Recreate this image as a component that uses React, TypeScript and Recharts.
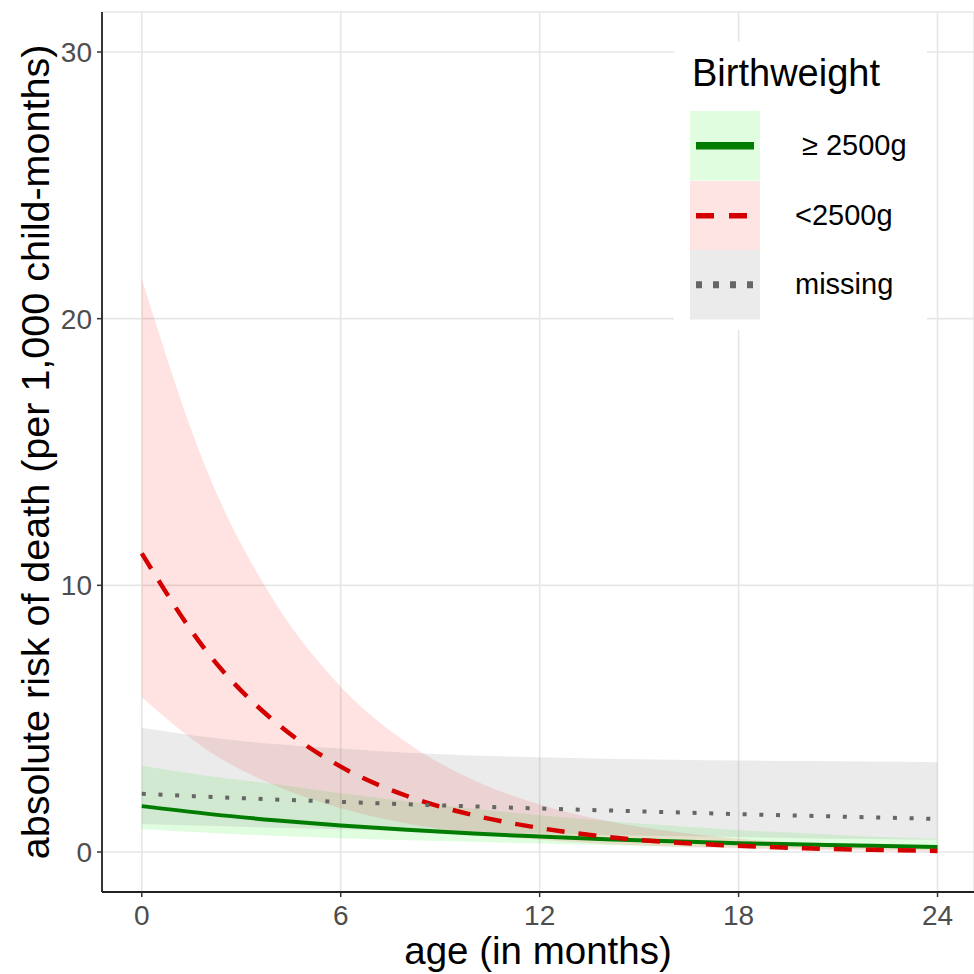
import React from 'react';
import { ComposedChart, Area, Line, XAxis, YAxis, CartesianGrid, Legend } from 'recharts';

// age in months
const months = [0, 2, 4, 6, 8, 10, 12, 14, 16, 18, 20, 22, 24];

// >= 2500g
const normalEst = [1.72, 1.43, 1.19, 0.99, 0.83, 0.69, 0.58, 0.48, 0.4, 0.33, 0.28, 0.23, 0.19];
const normalLo = [0.86, 0.72, 0.61, 0.52, 0.44, 0.38, 0.32, 0.26, 0.21, 0.17, 0.13, 0.1, 0.07];
const normalHi = [3.23, 2.85, 2.55, 2.2, 1.9, 1.62, 1.38, 1.16, 0.98, 0.82, 0.7, 0.58, 0.49];

// < 2500g
const lowEst = [11.2, 7.45, 4.9, 3.2, 2.1, 1.38, 0.9, 0.57, 0.36, 0.23, 0.14, 0.08, 0.04];
const lowLo = [5.8, 3.8, 2.5, 1.64, 1.07, 0.7, 0.46, 0.3, 0.2, 0.13, 0.085, 0.05, 0.02];
const lowHi = [21.5, 14.2, 9.4, 6.2, 4.1, 2.7, 1.78, 1.17, 0.77, 0.5, 0.33, 0.22, 0.14];

// missing
const missEst = [2.18, 2.07, 1.97, 1.88, 1.79, 1.71, 1.63, 1.56, 1.49, 1.42, 1.36, 1.3, 1.24];
const missLo = [1.05, 0.98, 0.91, 0.85, 0.79, 0.74, 0.69, 0.64, 0.6, 0.56, 0.52, 0.49, 0.46];
const missHi = [4.66, 4.3, 4.05, 3.88, 3.72, 3.62, 3.55, 3.5, 3.46, 3.43, 3.41, 3.39, 3.37];

const xTicks = [0, 6, 12, 18, 24];
const yTicks = [0, 10, 20, 30];
const legendLabels = ['≥ 2500g', '<2500g', 'missing'];

const rows = months.map((m, i) => ({
  month: m,
  normal: normalEst[i],
  normalBand: [normalLo[i], normalHi[i]],
  low: lowEst[i],
  lowBand: [lowLo[i], lowHi[i]],
  missing: missEst[i],
  missingBand: [missLo[i], missHi[i]],
}));

const FONT = "'Liberation Sans', Arial, Helvetica, sans-serif";
const GREEN = '#007d00';
const RED = '#d40000';
const GREY = '#666666';

const keyStyles = [
  { bg: '#e0fde0', stroke: GREEN, width: 7.5, dash: undefined as string | undefined, pad: 7 },
  { bg: '#ffe4e4', stroke: RED, width: 5.5, dash: '18 15', pad: 0 },
  { bg: '#ebebeb', stroke: GREY, width: 7, dash: '6 11', pad: 0 },
];

const LegendBox = () => (
  <div style={{ position: 'relative', width: 253, height: 288, background: '#fff', fontFamily: FONT }}>
    <div style={{ position: 'absolute', left: 18, top: 12, fontSize: 38, lineHeight: 1, color: '#000' }}>
      Birthweight
    </div>
    {legendLabels.map((label, i) => (
      <div
        key={label}
        style={{ position: 'absolute', left: 16, top: 69 + i * 69.5, height: 69.5, display: 'flex', alignItems: 'center' }}
      >
        <svg width={70} height={69.5} style={{ display: 'block' }}>
          <rect x={0} y={0} width={70} height={69.5} fill={keyStyles[i].bg} />
          <line
            x1={6}
            x2={64}
            y1={34.75}
            y2={34.75}
            stroke={keyStyles[i].stroke}
            strokeWidth={keyStyles[i].width}
            strokeDasharray={keyStyles[i].dash}
          />
        </svg>
        <span style={{ marginLeft: 35 + keyStyles[i].pad, fontSize: 29, color: '#000', whiteSpace: 'nowrap' }}>
          {label}
        </span>
      </div>
    ))}
  </div>
);

export default function App() {
  return (
    <div style={{ position: 'absolute', left: 0, top: 0, width: 974, height: 974, overflow: 'hidden', background: '#fff' }}>
      <ComposedChart
        width={974}
        height={974}
        data={rows}
        margin={{ top: 12, right: 0, bottom: 0, left: 0 }}
        style={{ fontFamily: FONT }}
      >
        <CartesianGrid stroke="#e6e6e6" strokeWidth={1.6} />
        <XAxis
          dataKey="month"
          type="number"
          domain={[-1.2, 25.1]}
          ticks={xTicks}
          allowDataOverflow
          height={82}
          tickSize={5}
          tickMargin={8}
          tick={{ fill: '#4d4d4d', fontSize: 28 }}
          tickLine={{ stroke: '#333', strokeWidth: 1.5 }}
          axisLine={{ stroke: '#222', strokeWidth: 1.8 }}
          label={{ value: 'age (in months)', position: 'center', dy: 17, fontSize: 38.5, fill: '#000' }}
        />
        <YAxis
          type="number"
          domain={[-1.5, 31.5]}
          ticks={yTicks}
          allowDataOverflow
          width={102}
          tickSize={5}
          tickMargin={5}
          tick={{ fill: '#4d4d4d', fontSize: 28 }}
          tickLine={{ stroke: '#333', strokeWidth: 1.5 }}
          axisLine={{ stroke: '#222', strokeWidth: 1.8 }}
          label={{
            value: 'absolute risk of death (per 1,000 child-months)',
            angle: -90,
            position: 'center',
            dx: -16,
            fontSize: 39.5,
            fill: '#000',
          }}
        />
        <Area dataKey="normalBand" type="monotone" stroke="none" fill="#00ee00" fillOpacity={0.12} isAnimationActive={false} activeDot={false} />
        <Area dataKey="lowBand" type="monotone" stroke="none" fill="#ff0000" fillOpacity={0.11} isAnimationActive={false} activeDot={false} />
        <Area dataKey="missingBand" type="monotone" stroke="none" fill="#7f7f7f" fillOpacity={0.155} isAnimationActive={false} activeDot={false} />
        <Line dataKey="normal" type="monotone" stroke={GREEN} strokeWidth={4} dot={false} activeDot={false} isAnimationActive={false} />
        <Line dataKey="low" type="monotone" stroke={RED} strokeWidth={4.5} strokeDasharray="18 14" dot={false} activeDot={false} isAnimationActive={false} />
        <Line dataKey="missing" type="monotone" stroke={GREY} strokeWidth={4} strokeDasharray="4 12.7" dot={false} activeDot={false} isAnimationActive={false} />
        <Legend
          layout="vertical"
          align="center"
          verticalAlign="middle"
          content={() => <LegendBox />}
          wrapperStyle={{ left: 674, top: 42, width: 253, height: 288 }}
        />
      </ComposedChart>
    </div>
  );
}
